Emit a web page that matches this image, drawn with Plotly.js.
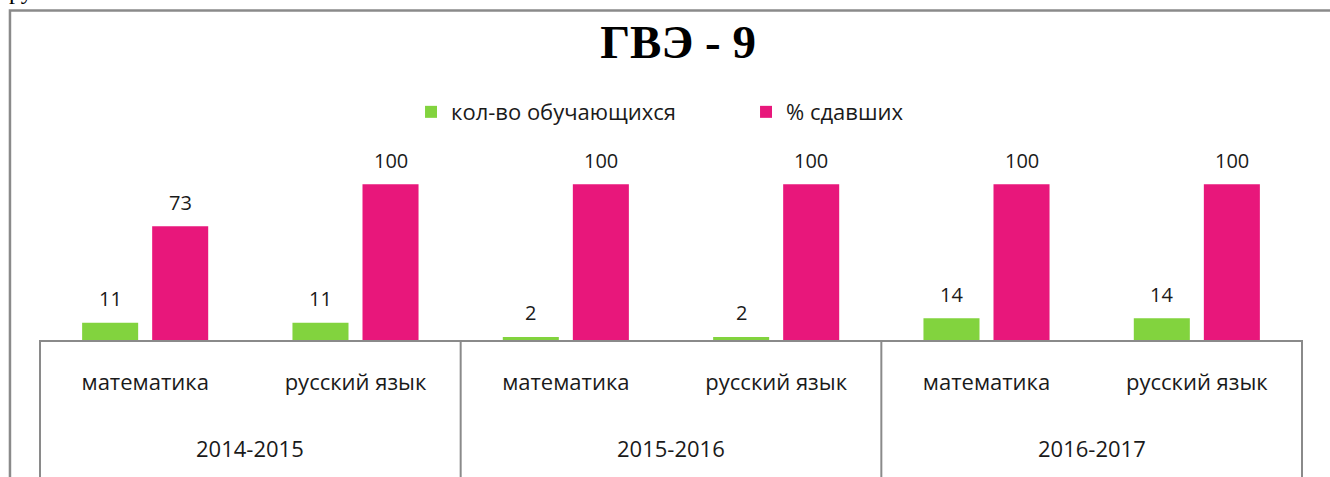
<!DOCTYPE html>
<html><head><meta charset="utf-8">
<script src="https://cdn.plot.ly/plotly-3.0.1.min.js"></script>
<style>html,body{margin:0;padding:0;background:#fff;}#chart{width:1330px;height:477px;}</style>
</head><body><div id="chart"></div>
<script>
const years = ["2014-2015","2014-2015","2015-2016","2015-2016","2016-2017","2016-2017"];
const subjects = ["математика","русский язык","математика","русский язык","математика","русский язык"];
const yearLabels = ["2014-2015","2015-2016","2016-2017"];
const students = [11,11,2,2,14,14];
const passedPct = [73,100,100,100,100,100];
const seriesNames = ["кол-во обучающихся","% сдавших"];

const idx = subjects.map((_, i) => i);
const FONT = "Open Sans, Noto Sans, sans-serif";
const BARGAP = 0.334;

const traces = [
  {type:"bar", name:seriesNames[0], x:idx, y:students, marker:{color:"#82D33E"}},
  {type:"bar", name:seriesNames[1], x:idx, y:passedPct, marker:{color:"#E8177B"}}
];

const shapes = [
  {type:"rect", xref:"paper", yref:"paper", x0:-0.0238, x1:1.05, y0:-1.0, y1:1.762,
   line:{color:"#8a8a8a", width:2.5}, fillcolor:"rgba(0,0,0,0)", layer:"below"}
];
[0, 1/3, 2/3, 1].forEach(f => shapes.push({type:"line", xref:"x domain", yref:"paper",
  x0:f, x1:f, y0:0, y1:-1.0, line:{color:"#8a8a8a", width:2}}));

const annotations = yearLabels.map((yl, k) => ({
  text: yl, xref:"x", yref:"paper", x: 2*k + 0.5, y: -0.578, yanchor:"middle",
  showarrow:false, font:{family:FONT, size:22, color:"#1a1a1a"}
}));
// value labels above each bar (grouped: slot offset follows from bargap)
const slot = (1 - BARGAP) / 4;
[students, passedPct].forEach((vals, s) => vals.forEach((v, i) => annotations.push({
  text: String(v), xref:"x", yref:"y", x: i + (s === 0 ? -slot : slot), y: v,
  yanchor:"middle", yshift:24, showarrow:false, font:{family:FONT, size:20, color:"#1a1a1a"}
})));
annotations.push({text:"ру", xref:"paper", yref:"paper", x:-0.0262, xanchor:"left",
  y:1.785, yanchor:"bottom", showarrow:false, font:{family:"Liberation Serif", size:24, color:"#000"}});

const layout = {
  width:1330, height:477,
  margin:{l:40, r:28, t:153, b:137},
  paper_bgcolor:"#fff", plot_bgcolor:"#fff",
  title:{text:"<b>ГВЭ - 9</b>", font:{family:"Liberation Serif, serif", size:47, color:"#000"},
         x:0.5098, xanchor:"center", y:0.912, yanchor:"middle", yref:"container"},
  barmode:"group", bargap:BARGAP, bargroupgap:0.2,
  showlegend:true,
  legend:{orientation:"h", x:0.294, xanchor:"left", y:1.219, yanchor:"middle",
          font:{family:FONT, size:22, color:"#1a1a1a"},
          entrywidth:290, entrywidthmode:"pixels", itemwidth:30, bgcolor:"rgba(0,0,0,0)"},
  xaxis:{type:"linear", range:[-0.5,5.5], tickvals:idx, ticktext:subjects, ticks:"",
         showgrid:false, zeroline:false, showline:true, linecolor:"#8a8a8a", linewidth:2,
         tickfont:{family:FONT, size:22, color:"#1a1a1a"}, ticklabelstandoff:22, fixedrange:true},
  yaxis:{range:[0,120], visible:false, showgrid:false, zeroline:false, fixedrange:true},
  shapes:shapes, annotations:annotations
};

Plotly.newPlot("chart", traces, layout, {displayModeBar:false, staticPlot:true});
</script></body></html>
